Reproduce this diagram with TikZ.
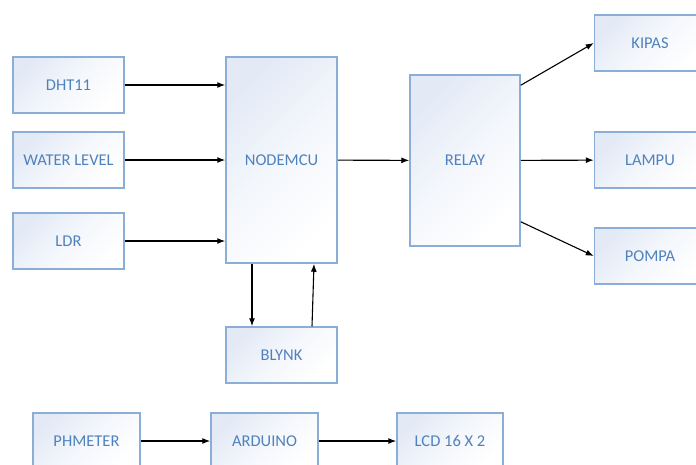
\documentclass[tikz,border=0pt]{standalone}
\usepackage{fontspec}
\setmainfont{Carlito}
\usetikzlibrary{arrows.meta, positioning}
\definecolor{boxLine}{HTML}{8AAED6}
\definecolor{boxFill}{HTML}{E3EAF6}
\definecolor{boxText}{HTML}{4F82BD}

\begin{document}
\begin{tikzpicture}[x=1pt, y=-1pt,
    every node/.style={font=\fontsize{16.5}{19}\selectfont, text=boxText},
    blok/.style={draw=boxLine, line width=1.5pt, top color=boxFill, bottom color=white,
      middle color=white!60!boxFill, shading angle=45, minimum width=111pt,
      minimum height=56pt, inner sep=0pt},
    panah/.style={-{Latex[length=8pt,width=6pt]}, line width=1.1pt, black}]
        \path[use as bounding box, clip] (0,0) rectangle (696,464);
        % input sensor
        \node[blok] (dht) at (68.5,85) {DHT11};
        \node[blok] (water) at (68.5,160) {WATER LEVEL};
        \node[blok] (ldr) at (68.5,241) {LDR};
        \node[blok, minimum height=206pt] (nodemcu) at (281.5,160) {NODEMCU};
        \node[blok] (blynk) at (281.5,355) {BLYNK};
        \node[blok, minimum width=110pt, minimum height=171pt] (relay) at (465,160.5) {RELAY};
        % output
        \node[blok] (kipas) at (650,43) {KIPAS};
        \node[blok] (lampu) at (650,160) {LAMPU};
        \node[blok] (pompa) at (650,256) {POMPA};
        % bagian arduino
        \node[blok, minimum width=107pt] (phmeter) at (86.5,441) {PHMETER};
        \node[blok, minimum width=107pt] (arduino) at (264.5,441) {ARDUINO};
        \node[blok, minimum width=106pt] (lcd) at (450,441) {LCD 16 X 2};
        \draw[panah] (dht) -- (dht -| nodemcu.west);
        \draw[panah] (water) -- (water -| nodemcu.west);
        \draw[panah] (ldr) -- (ldr -| nodemcu.west);
        \draw[panah] (nodemcu) -- (relay);
        \draw[panah] ([xshift=-29.5pt]nodemcu.south) -- ([xshift=-29.5pt]blynk.north);
        \draw[panah] ([xshift=30.5pt]blynk.north) -- ([xshift=32.5pt]nodemcu.south);
        \draw[panah] ([yshift=-11pt]relay.north east) -- (kipas.west);
        \draw[panah] (relay) -- (lampu);
        \draw[panah] ([yshift=25pt]relay.south east) -- (pompa.west);
        \draw[panah] (phmeter) -- (arduino);
        \draw[panah] (arduino) -- (lcd);
      \end{tikzpicture}
\end{document}
